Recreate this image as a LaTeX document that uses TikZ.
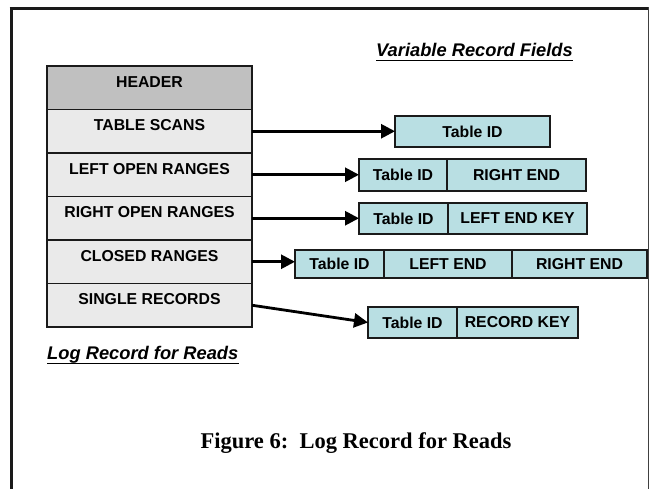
\documentclass[tikz,border=0pt]{standalone}
\usepackage{fontspec}
\setmainfont{Liberation Serif}
\setsansfont{Liberation Sans}
\usetikzlibrary{arrows.meta}
\definecolor{hdrgray}{HTML}{C0C0C0}
\definecolor{rowgray}{HTML}{EAEAEA}
\definecolor{fieldcyan}{HTML}{B9DFE3}
\definecolor{edge}{HTML}{1A1A1A}
\newcommand{\cellfont}{\sffamily\bfseries\fontsize{15.8}{18}\selectfont}
\begin{document}
\begin{tikzpicture}[x=1pt,y=-1pt,
  row/.style={draw=edge, line width=1.8pt, fill=rowgray, minimum width=205pt,
    inner xsep=0pt, inner ysep=0pt, outer sep=0pt,
    text height=21.2pt, text depth=22.3pt, font=\cellfont},
  field/.style={draw=edge, line width=1.8pt, fill=fieldcyan, inner sep=0pt,
    outer sep=0pt, anchor=west, font=\cellfont},
  link/.style={line width=2.8pt, draw=black, -{Triangle[length=14pt,width=14pt]}},
  heading/.style={anchor=base west, inner sep=0pt,
    font=\sffamily\bfseries\itshape\fontsize{18.3}{21}\selectfont},
  uline/.style={line width=1.4pt},
]
\useasboundingbox (0,0) rectangle (651,489);

% page frame
\draw[line width=3pt, edge] (11,489) -- (11,7.5);
\draw[line width=2.5pt, edge] (9.5,8.7) -- (648.5,8.7);
\draw[line width=1.3pt, black!75] (648.5,7.5) -- (648.5,489);

% log record layout
\node[row, fill=hdrgray] (hdr) at (149.5,87.75) {HEADER};
\node[row] (scan)   at (149.5,131.25) {TABLE SCANS};
\node[row] (lopen)  at (149.5,174.75) {LEFT OPEN RANGES};
\node[row] (ropen)  at (149.5,218.25) {RIGHT OPEN RANGES};
\node[row] (closed) at (149.5,261.75) {CLOSED RANGES};
\node[row] (single) at (149.5,305.25) {SINGLE RECORDS};

% variable record fields
\node[field, minimum width=155pt, minimum height=31pt] (tsA) at (395,131.5) {Table ID};

\node[field, minimum width=88pt,  minimum height=32pt] (loA) at (359,175) {Table ID};
\node[field, minimum width=139pt, minimum height=32pt] (loB) at (447,175) {RIGHT END};

\node[field, minimum width=89pt,  minimum height=31pt] (roA) at (359,218.5) {Table ID};
\node[field, minimum width=139pt, minimum height=31pt] (roB) at (448,218.5) {LEFT END KEY};

\node[field, minimum width=89pt,  minimum height=28pt] (clA) at (295,264) {Table ID};
\node[field, minimum width=128pt, minimum height=28pt] (clB) at (384,264) {LEFT END};
\node[field, minimum width=135pt, minimum height=28pt] (clC) at (512,264) {RIGHT END};

\node[field, minimum width=89pt,  minimum height=31pt] (srA) at (368,322.5) {Table ID};
\node[field, minimum width=121pt, minimum height=31pt] (srB) at (457,322.5) {RECORD KEY};

% pointers from record sections to their fields
\draw[link] (scan.east)   -- (scan.east -| tsA.west);
\draw[link] (lopen.east)  -- (lopen.east -| loA.west);
\draw[link] (ropen.east)  -- (ropen.east -| roA.west);
\draw[link] (closed.east) -- (closed.east -| clA.west);
\draw[link] (single.east) -- (srA.west);

% headings
\node[heading] (vtitle) at (376,57) {Variable Record Fields};
\draw[uline] ([yshift=-3.6pt]vtitle.base west) -- ([yshift=-3.6pt]vtitle.base east);
\node[heading] (ltitle) at (47,359.5) {Log Record for Reads};
\draw[uline] ([yshift=-4pt]ltitle.base west) -- ([yshift=-4pt]ltitle.base east);

% caption
\node[anchor=base, inner sep=0pt, font=\rmfamily\bfseries\fontsize{22.5}{26}\selectfont]
  (caption) at (356,448) {Figure 6:\ \ Log Record for Reads};
\end{tikzpicture}
\end{document}
